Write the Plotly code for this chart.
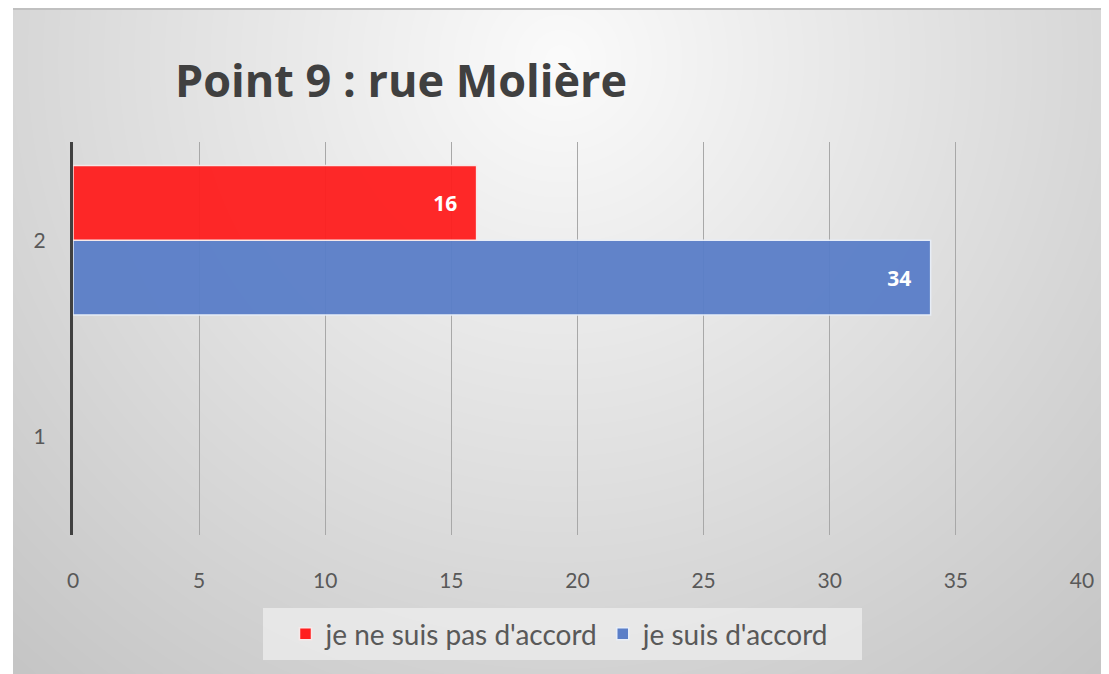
import base64, struct, zlib
import numpy as np
import plotly.graph_objects as go

# ---- data ----
categories = ["1", "2"]
disagree = [None, 16]
agree = [None, 34]
series_names = ["je ne suis pas d'accord", "je suis d'accord"]
x_ticks = [0, 5, 10, 15, 20, 25, 30, 35, 40]
title_text = "Point 9 : rue Molière"

# page is rendered with an 8px body margin -> work in page coords, convert
OFF = 8
PAGE_W, PAGE_H = 1109, 674
W, H = PAGE_W - OFF, PAGE_H - OFF
# plot area in page px
PX0, PX1, PY0, PY1 = 73, 1082, 142, 535
L, R = PX0 - OFF, W - (PX1 - OFF)
T, B = PY0 - OFF, H - (PY1 - OFF)
PW, PH = PX1 - PX0, PY1 - PY0

def px_x(px):  # page px -> paper x
    return (px - PX0) / PW

def px_y(py):  # page py -> paper y
    return (PY1 - py) / PH

# ---- background gradient image (style only) ----
bx0, by0 = 13, 8  # page coords of the chart frame
bw, bh = PAGE_W - bx0, PAGE_H - by0
yy, xx = np.mgrid[0:bh, 0:bw].astype(float)
cx, cy = 560 - bx0, 60 - by0
d = np.sqrt(((xx - cx) / 700.0) ** 2 + ((yy - cy) / 700.0) ** 2)
g = 251 - 46 * d
g[0:2, :] = 192
g = np.clip(g, 0, 255).astype(np.uint8)

def make_png(arr):
    h, w = arr.shape
    raw = b"".join(b"\x00" + arr[i].tobytes() for i in range(h))
    def chunk(t, data):
        c = struct.pack(">I", len(data)) + t + data
        return c + struct.pack(">I", zlib.crc32(t + data) & 0xFFFFFFFF)
    return (b"\x89PNG\r\n\x1a\n" + chunk(b"IHDR", struct.pack(">IIBBBBB", w, h, 8, 0, 0, 0, 0))
            + chunk(b"IDAT", zlib.compress(raw, 9)) + chunk(b"IEND", b""))

img_src = "data:image/png;base64," + base64.b64encode(make_png(g)).decode()

label_font = dict(color="white", size=21, family="Open Sans, sans-serif")
axis_font = dict(size=21, color="#595959", family="Lato, sans-serif")

fig = go.Figure()
# blue first so that red sits on top within the group
fig.add_trace(go.Bar(
    y=categories, x=agree, orientation="h", name=series_names[1],
    marker=dict(color="#5a7ec8", opacity=0.95, line=dict(color="#e8eef8", width=1.5)),
    texttemplate="<b>%{x}</b>\u00a0\u00a0\u00a0", textposition="inside", insidetextanchor="end",
    textfont=label_font, hoverinfo="skip",
))
fig.add_trace(go.Bar(
    y=categories, x=disagree, orientation="h", name=series_names[0],
    marker=dict(color="#ff1e1e", opacity=0.95, line=dict(color="#f8e8e8", width=1.5)),
    texttemplate="<b>%{x}</b>\u00a0\u00a0\u00a0", textposition="inside", insidetextanchor="end",
    textfont=label_font, hoverinfo="skip",
))

fig.update_layout(
    width=W, height=H,
    margin=dict(l=L, r=R, t=T, b=B, autoexpand=False),
    paper_bgcolor="white",
    plot_bgcolor="rgba(0,0,0,0)",
    barmode="group",
    bargap=0.24,
    bargroupgap=0.0,
    showlegend=True,
    title=dict(
        text="<b>" + title_text + "</b>",
        x=px_x(401), xref="paper", xanchor="center",
        y=1 - (81 - OFF) / H, yref="container", yanchor="middle",
        font=dict(size=45, color="#404040", family="Open Sans, sans-serif"),
    ),
    legend=dict(
        orientation="h", traceorder="reversed",
        x=px_x(560), xanchor="center",
        y=px_y(634), yanchor="middle",
        bgcolor="rgba(0,0,0,0)",
        font=dict(size=28, color="#595959", family="Lato, sans-serif"),
    ),
    shapes=[dict(
        type="rect", xref="paper", yref="paper", layer="below",
        x0=px_x(263), x1=px_x(862), y0=px_y(660), y1=px_y(608),
        fillcolor="rgba(238,238,238,0.75)", line=dict(width=0),
    )],
    xaxis=dict(
        range=[0, 40], tickvals=x_ticks, ticktext=[str(v) for v in x_ticks],
        showgrid=True, gridcolor="#a8a8a8", gridwidth=1,
        zeroline=False, showline=False, ticks="",
        ticklabelstandoff=31,
        tickfont=axis_font, fixedrange=True,
    ),
    yaxis=dict(
        type="category", categoryorder="array", categoryarray=categories,
        range=[-0.5, 1.5],
        showgrid=False, zeroline=False,
        showline=True, linecolor="#404040", linewidth=3,
        ticks="", ticklabelstandoff=20,
        tickfont=axis_font, fixedrange=True,
    ),
    images=[dict(
        source=img_src, xref="paper", yref="paper",
        x=px_x(bx0), y=px_y(by0),
        sizex=bw / PW, sizey=bh / PH,
        xanchor="left", yanchor="top", sizing="stretch", layer="below",
    )],
)

fig.write_html("out.html")
